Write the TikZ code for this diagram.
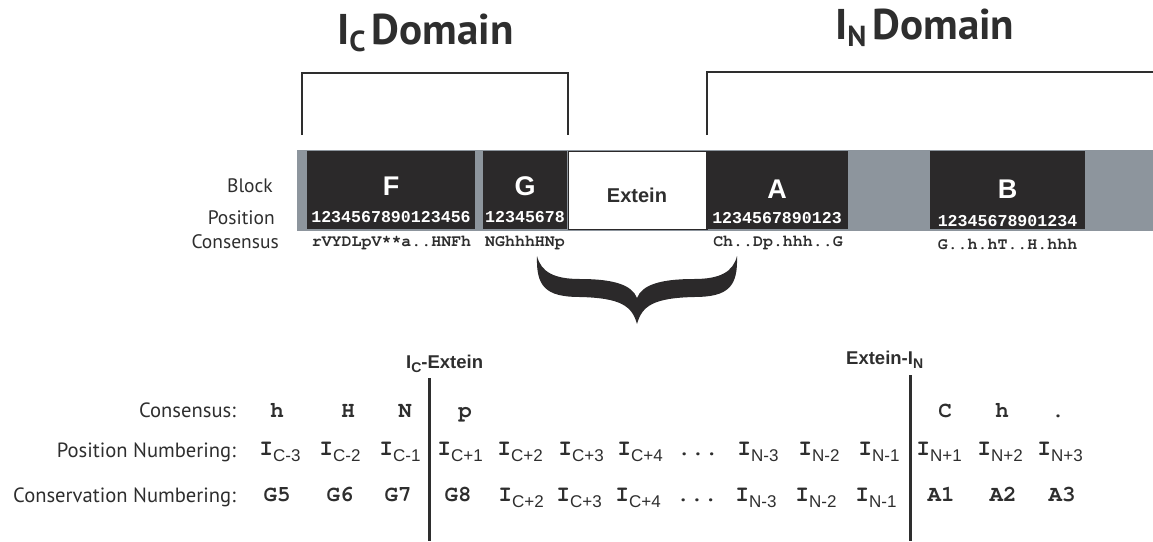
\documentclass[tikz,border=0pt]{standalone}
\usepackage{fontspec}
\setmainfont{PT Sans}
\newfontfamily\arialfont{Liberation Sans}
\newfontfamily\courfont{Liberation Mono}
\newfontfamily\slabmono{TeX Gyre Cursor}

\definecolor{bargray}{HTML}{8D959D}
\definecolor{blockdark}{HTML}{2B292A}
\definecolor{inkgray}{HTML}{2E2E2E}

\newcommand\fsz[1]{\fontsize{#1}{#1}\selectfont}
% I with a sans subscript, as used in the numbering rows
\newcommand\Isub[1]{{\slabmono\bfseries\fsz{23}I}\raisebox{-6pt}{\arialfont\fsz{17}#1}}

\tikzset{
  rowlabel/.style={inner sep=0pt, anchor=base east, font=\fsz{19.5}, text=inkgray},
  bigrowlabel/.style={rowlabel, font=\fsz{20.6}},
  domtitle/.style={inner sep=0pt, anchor=base west, font=\bfseries\fsz{43}, text=inkgray},
  barbox/.style={inner sep=0pt, anchor=north west, minimum height=78pt},
  darkbox/.style={barbox, fill=blockdark},
  blockletter/.style={inner sep=0pt, anchor=base, text=white, font=\arialfont\bfseries\fsz{27}},
  posnum/.style={inner sep=0pt, anchor=base, text=white, font=\courfont\bfseries\fsz{16.6}},
  consstr/.style={inner sep=0pt, anchor=base, text=inkgray, font=\slabmono\bfseries\fsz{16.6}},
  bracketline/.style={draw=inkgray, line width=1.4pt},
  divline/.style={draw=inkgray, line width=3pt},
  cell/.style={inner sep=0pt, anchor=base, text=inkgray},
  monocell/.style={cell, font=\slabmono\bfseries\fsz{22.5}},
  dotcell/.style={cell, font=\slabmono\bfseries\fsz{23}},
  junction/.style={inner sep=0pt, anchor=base west, text=inkgray, font=\arialfont\bfseries\fsz{18.5}},
}

\begin{document}
\begin{tikzpicture}[x=1pt,y=-1pt]
\useasboundingbox (0,0) rectangle (1153,541);

% domain titles
\node[domtitle] (ctitle) at (337,44) {I\raisebox{-7pt}{\fsz{29}C}\hspace{6pt}Domain};
\node[domtitle] (ntitle) at (835,39) {I\raisebox{-7pt}{\fsz{29}N}\hspace{6pt}Domain};

% domain brackets
\coordinate (cb1) at (302,135);
\coordinate (cb2) at (302,73);
\coordinate (cb3) at (568,73);
\coordinate (cb4) at (568,135);
\draw[bracketline] (cb1) -- (cb2) -- (cb3) -- (cb4);
\coordinate (nb1) at (707,135);
\coordinate (nb2) at (707,72);
\coordinate (nb3) at (1153,72);
\draw[bracketline] (nb1) -- (nb2) -- (nb3);

% intein bar with blocks
\node[barbox, fill=bargray, minimum width=856pt, minimum height=81pt] (bar) at (297,150) {};
\node[darkbox, minimum width=168pt] (F) at (307,151) {};
\node[darkbox, minimum width=84pt] (G) at (483,151) {};
\node[barbox, fill=white, draw=blockdark, line width=0.8pt, minimum width=139pt] (ext) at (567.5,151) {};
\node[darkbox, minimum width=142pt] (A) at (706,151) {};
\node[darkbox, minimum width=155pt] (B) at (930,151) {};

\node[blockletter] (Fl) at (391,195) {F};
\node[blockletter] (Gl) at (525,195) {G};
\node[blockletter] (Al) at (777,198) {A};
\node[blockletter] (Bl) at (1007.5,198) {B};
\node[inner sep=0pt, anchor=base, text=inkgray, font=\arialfont\bfseries\fsz{20}] (extl) at (637,202) {Extein};

\node[posnum] (Fn) at (391,222) {1234567890123456};
\node[posnum] (Gn) at (525,222) {12345678};
\node[posnum] (An) at (777,223) {1234567890123};
\node[posnum] (Bn) at (1007.5,226) {12345678901234};

\node[consstr] (Fc) at (391.5,246) {rVYDLpV**a..HNFh};
\node[consstr] (Gc) at (525,246) {NGhhhHNp};
\node[consstr] (Ac) at (778,246) {Ch..Dp.hhh..G};
\node[consstr] (Bc) at (1007.5,249) {G..h.hT..H.hhh};

\node[rowlabel] (lblock) at (273,192) {Block};
\node[rowlabel] (lpos) at (275,224) {Position};
\node[rowlabel] (lcons) at (279,248) {Consensus};

% brace gathering the junction region
\fill[blockdark] (537,256)
  .. controls (536,286) and (545,297) .. (580,297)
  .. controls (621,298) and (632,306) .. (637,324)
  .. controls (642,306) and (653,298) .. (694,297)
  .. controls (729,297) and (738,286) .. (737,256)
  .. controls (733,272) and (720,279) .. (694,279)
  .. controls (660,279) and (642,285) .. (637,298)
  .. controls (632,285) and (614,279) .. (580,279)
  .. controls (554,279) and (541,272) .. (537,256) -- cycle;

% junction labels and dividers
\node[junction] (icext) at (406,368) {I\raisebox{-4.5pt}{\fsz{14}C}-Extein};
\node[junction] (extin) at (846,364) {Extein-I\raisebox{-4.5pt}{\fsz{14}N}};
\coordinate (d1t) at (429,378);
\coordinate (d1b) at (429,541);
\coordinate (d2t) at (910,375);
\coordinate (d2b) at (910,541);
\draw[divline] (d1t) -- (d1b);
\draw[divline] (d2t) -- (d2b);

% row labels
\node[bigrowlabel] (rcons) at (236,417) {Consensus:};
\node[bigrowlabel] (rpos) at (236,457) {Position Numbering:};
\node[bigrowlabel] (rcon) at (236,502) {Conservation Numbering:};

% consensus row
\node[monocell] (c1) at (277,417) {h};
\node[monocell] (c2) at (348,417) {H};
\node[monocell] (c3) at (405,417) {N};
\node[monocell] (c4) at (465,417) {p};
\node[monocell] (c5) at (945,417) {C};
\node[monocell] (c6) at (1002,417) {h};
\node[monocell] (c7) at (1058,417) {.};

% position numbering row
\node[cell] (p1) at (280,455) {\Isub{C-3}};
\node[cell] (p2) at (340,455) {\Isub{C-2}};
\node[cell] (p3) at (400,455) {\Isub{C-1}};
\node[cell] (p4) at (460,455) {\Isub{C+1}};
\node[cell] (p5) at (520,455) {\Isub{C+2}};
\node[cell] (p6) at (581,455) {\Isub{C+3}};
\node[cell] (p7) at (640,455) {\Isub{C+4}};
\node[dotcell] (p8) at (698,455) {...};
\node[cell] (p9) at (758,455) {\Isub{N-3}};
\node[cell] (p10) at (819,455) {\Isub{N-2}};
\node[cell] (p11) at (879,455) {\Isub{N-1}};
\node[cell] (p12) at (939,455) {\Isub{N+1}};
\node[cell] (p13) at (1000,455) {\Isub{N+2}};
\node[cell] (p14) at (1060,455) {\Isub{N+3}};

% conservation numbering row
\node[monocell] (k1) at (277,501) {G5};
\node[monocell] (k2) at (340,501) {G6};
\node[monocell] (k3) at (398,501) {G7};
\node[monocell] (k4) at (458,501) {G8};
\node[cell] (k5) at (521,501) {\Isub{C+2}};
\node[cell] (k6) at (579,501) {\Isub{C+3}};
\node[cell] (k7) at (638,501) {\Isub{C+4}};
\node[dotcell] (k8) at (697,501) {...};
\node[cell] (k9) at (756,501) {\Isub{N-3}};
\node[cell] (k10) at (816,501) {\Isub{N-2}};
\node[cell] (k11) at (876,501) {\Isub{N-1}};
\node[monocell] (k12) at (941,501) {A1};
\node[monocell] (k13) at (1003,501) {A2};
\node[monocell] (k14) at (1062,501) {A3};
\end{tikzpicture}
\end{document}
